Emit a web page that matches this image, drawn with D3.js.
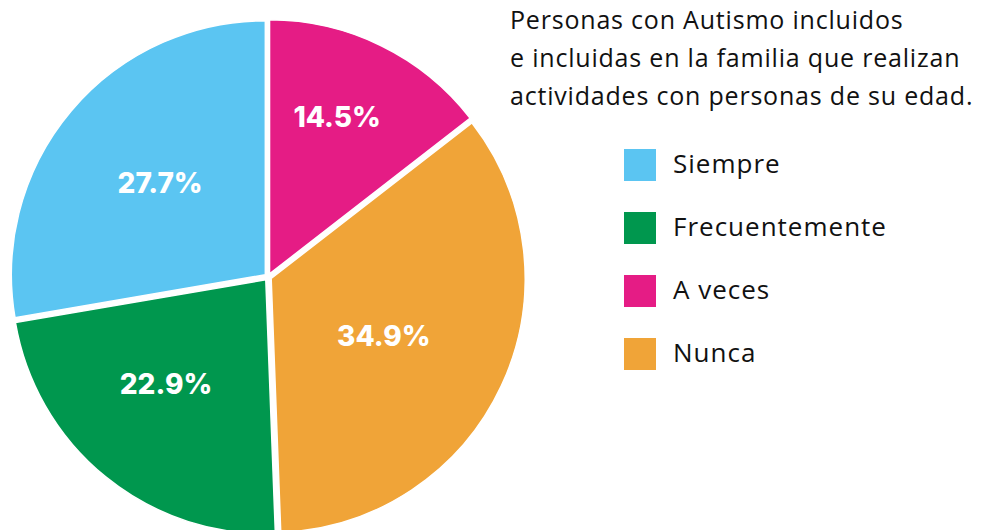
<!DOCTYPE html>
<html>
<head>
<meta charset="utf-8">
<script src="https://cdn.jsdelivr.net/npm/d3@7"></script>
<style>
  body { margin: 0; background: #fff; }
  svg { display: block; }
</style>
</head>
<body>
<div id="chart"></div>
<script>
// data
var categories = ["A veces", "Nunca", "Frecuentemente", "Siempre"];
var values = [14.5, 34.9, 22.9, 27.7];
var colors = ["#E51C85", "#F0A438", "#00974E", "#5BC5F2"];

var legendOrder = ["Siempre", "Frecuentemente", "A veces", "Nunca"];
var titleLines = [
  "Personas con Autismo incluidos",
  "e incluidas en la familia que realizan",
  "actividades con personas de su edad."
];

var width = 991, height = 530;
var cx = 268, cy = 277, radius = 254, explode = 3.5;

var svg = d3.select("#chart").append("svg")
  .attr("width", width)
  .attr("height", height);

var color = d3.scaleOrdinal().domain(categories).range(colors);

var pie = d3.pie()
  .sort(null)
  .value(function(d, i) { return values[i]; });

var arc = d3.arc().innerRadius(0).outerRadius(radius);

// where the labels sit: fraction of radius + small angle nudge (degrees)
var labelPos = {
  "A veces":        { f: 0.673, da: -2.8 },
  "Nunca":          { f: 0.498, da: 2 },
  "Frecuentemente": { f: 0.568, da: 4.7 },
  "Siempre":        { f: 0.55,  da: 1 }
};

var g = svg.append("g").attr("transform", "translate(" + cx + "," + cy + ")");

var slices = g.selectAll(".slice")
  .data(pie(categories))
  .enter()
  .append("g")
  .attr("class", "slice")
  .attr("transform", function(d) {
    var a = (d.startAngle + d.endAngle) / 2;
    return "translate(" + (Math.sin(a) * explode) + "," + (-Math.cos(a) * explode) + ")";
  });

slices.append("path")
  .attr("d", arc)
  .attr("fill", function(d) { return color(d.data); })
  .attr("stroke", "#fff")
  .attr("stroke-width", 1.5);

slices.append("text")
  .attr("transform", function(d) {
    var p = labelPos[d.data];
    var a = (d.startAngle + d.endAngle) / 2 + p.da * Math.PI / 180;
    var r = radius * p.f;
    return "translate(" + (Math.sin(a) * r) + "," + (-Math.cos(a) * r) + ")";
  })
  .attr("text-anchor", "middle")
  .attr("dy", "0.36em")
  .style("font-family", "Inter, 'Open Sans', sans-serif")
  .style("font-weight", 800)
  .style("font-size", "28px")
  .style("fill", "#fff")
  .text(function(d) { return d3.format(".1f")(d.value) + "%"; });

// title
svg.append("text")
  .attr("x", 510)
  .attr("y", 29)
  .style("font-family", "'Open Sans', sans-serif")
  .style("font-size", "25px")
  .style("letter-spacing", "0.8px")
  .style("fill", "#111")
  .selectAll("tspan")
  .data(titleLines)
  .enter()
  .append("tspan")
  .attr("x", 510)
  .attr("dy", function(d, i) { return i == 0 ? 0 : 38; })
  .text(function(d) { return d; });

// legend
var legend = svg.append("g").attr("class", "legend");
var ly = d3.scalePoint().domain(legendOrder).range([165, 354]);

var item = legend.selectAll(".item")
  .data(legendOrder)
  .enter()
  .append("g")
  .attr("class", "item")
  .attr("transform", function(d) { return "translate(624," + ly(d) + ")"; });

item.append("rect")
  .attr("x", 0)
  .attr("y", -16)
  .attr("width", 32)
  .attr("height", 32)
  .attr("fill", function(d) { return color(d); });

item.append("text")
  .attr("x", 49)
  .attr("dy", "0.3em")
  .style("font-family", "'Open Sans', sans-serif")
  .style("font-size", "26px")
  .style("letter-spacing", "1px")
  .style("fill", "#111")
  .text(function(d) { return d; });
</script>
</body>
</html>
